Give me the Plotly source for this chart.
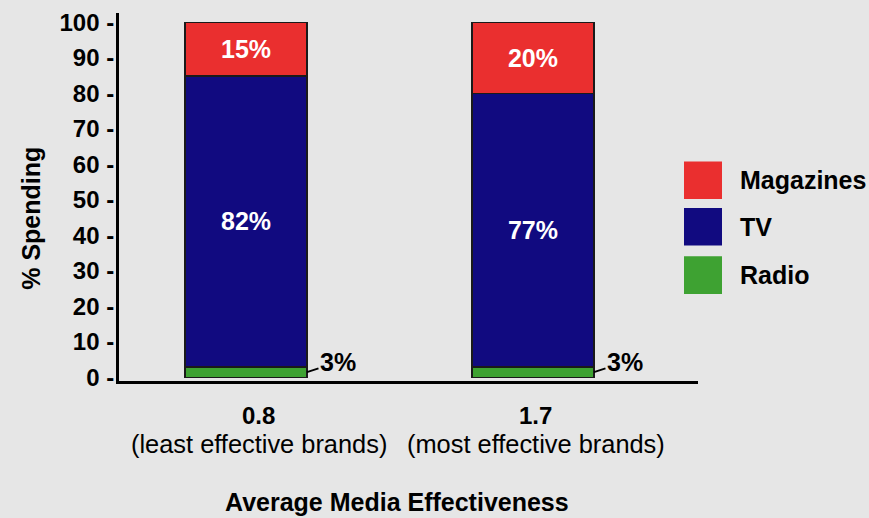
import plotly.graph_objects as go

# Share of ad spending by medium, for the two brand groups
group_values = ["0.8", "1.7"]
group_notes = ["(least effective brands)", "(most effective brands)"]
radio = [3, 3]
tv = [82, 77]
magazines = [15, 20]

series = [
    ("Radio", radio, "#3ea232"),
    ("TV", tv, "#110a80"),
    ("Magazines", magazines, "#ea2f2f"),
]

y_ticks = [0, 10, 20, 30, 40, 50, 60, 70, 80, 90, 100]

FONT = "Arial, Liberation Sans, sans-serif"
BG = "#e6e6e6"
W, H = 869, 518
L, R, T, B = 119, 171, 9, 137
PW, PH = W - L - R, H - T - B
X_RANGE = [-0.4425, 1.575]
xpos = list(range(len(group_values)))
BAR_W = 0.425
# horizontal nudge (pixels) of each category label from its bar centre
label_shift_px = [13, 3]


def px(x):
    return (x - L) / PW


def py(y):
    return (H - B - y) / PH


units_per_px = (X_RANGE[1] - X_RANGE[0]) / PW

fig = go.Figure()
for name, vals, color in series:
    show_text = name != "Radio"
    fig.add_trace(go.Bar(
        x=xpos, y=vals, name=name, width=BAR_W,
        marker=dict(color=color, line=dict(color="#1a1a1a", width=1.8)),
        text=[f"<b>{v}%</b>" for v in vals] if show_text else None,
        textposition="inside" if show_text else "none",
        insidetextanchor="middle",
        textfont=dict(family=FONT, size=25, color="white"),
        showlegend=False,
        hoverinfo="name+y",
    ))

# Radio labels sit outside the thin bottom segment with a short leader line
for xi, v in zip(xpos, radio):
    fig.add_annotation(
        x=xi + BAR_W / 2, y=v / 2, xref="x", yref="y",
        text=f"<b>{v}%</b>", showarrow=True, arrowhead=0, arrowwidth=2,
        arrowcolor="black", ax=31, ay=-10,
        font=dict(family=FONT, size=25, color="black"),
    )

# Category labels: bold value with a descriptive line beneath
for xi, val, note, shift in zip(xpos, group_values, group_notes, label_shift_px):
    xc = xi + shift * units_per_px
    fig.add_annotation(x=xc, y=py(416), xref="x", yref="paper",
                       text=f"<b>{val}</b>", showarrow=False,
                       xanchor="center", yanchor="middle",
                       font=dict(family=FONT, size=24, color="black"))
    fig.add_annotation(x=xc, y=py(445), xref="x", yref="paper",
                       text=note, showarrow=False,
                       xanchor="center", yanchor="middle",
                       font=dict(family=FONT, size=25.4, color="black"))

# Legend drawn as large colour squares with bold labels
legend_tops = [159, 206, 255]
for top, (name, _, color) in zip(legend_tops, reversed(series)):
    fig.add_shape(type="rect", xref="paper", yref="paper",
                  x0=px(684), x1=px(722), y0=py(top + 38), y1=py(top),
                  fillcolor=color, line=dict(width=0))
    fig.add_annotation(x=px(738), y=py(top + 19), xref="paper", yref="paper",
                       text=f"<b>{name}</b>", showarrow=False,
                       xanchor="left", yanchor="middle",
                       font=dict(family=FONT, size=25, color="black"))

# Axis titles
fig.add_annotation(x=px(31), y=py(217), xref="paper", yref="paper",
                   text="<b>% Spending</b>", textangle=-90, showarrow=False,
                   xanchor="center", yanchor="middle",
                   font=dict(family=FONT, size=25, color="black"))
fig.add_annotation(x=px(397), y=py(503), xref="paper", yref="paper",
                   text="<b>Average Media Effectiveness</b>", showarrow=False,
                   xanchor="center", yanchor="middle",
                   font=dict(family=FONT, size=25, color="black"))

fig.update_layout(
    barmode="stack",
    width=W, height=H,
    margin=dict(l=L, r=R, t=T, b=B),
    paper_bgcolor=BG, plot_bgcolor=BG,
    font=dict(family=FONT, color="black"),
    xaxis=dict(
        range=X_RANGE, tickvals=xpos, showticklabels=False,
        showgrid=False, zeroline=False, showline=True,
        linecolor="black", linewidth=3, ticks="",
        fixedrange=True,
    ),
    yaxis=dict(
        range=[-1.0, 102.7], tickvals=y_ticks,
        ticktext=[f"<b>{t} -</b>" for t in y_ticks],
        showgrid=False, zeroline=False, showline=True,
        linecolor="black", linewidth=3, ticks="",
        ticklabelstandoff=-3,
        tickfont=dict(family=FONT, size=24, color="black"),
        fixedrange=True,
    ),
)

fig.write_html("out.html")
